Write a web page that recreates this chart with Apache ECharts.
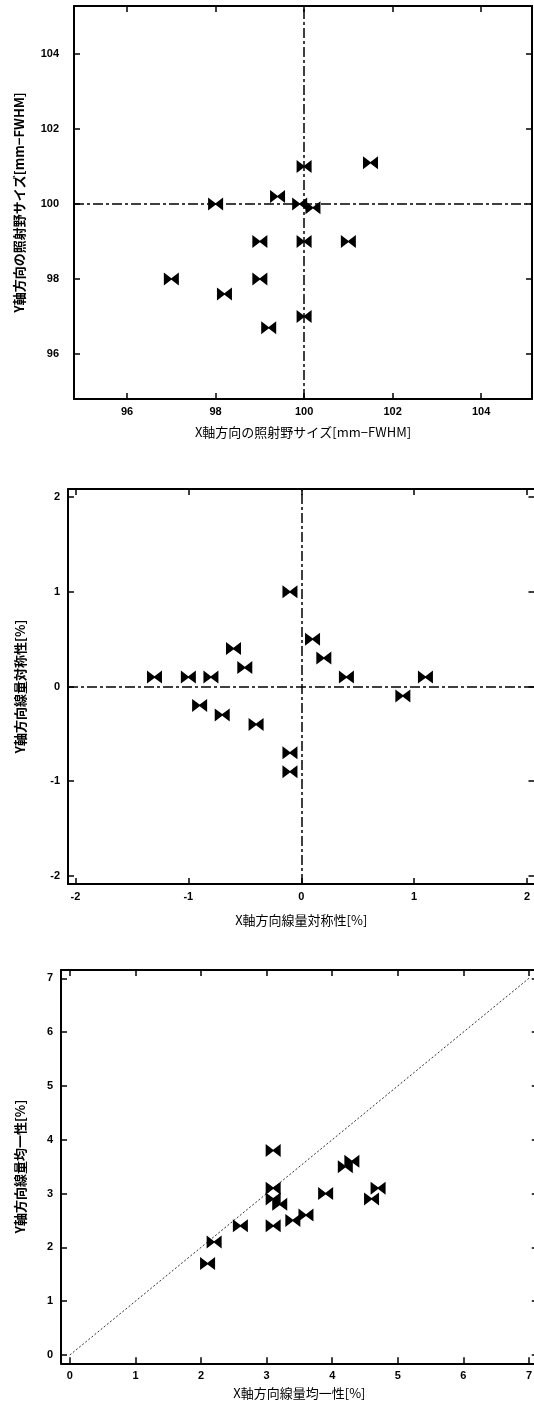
<!DOCTYPE html>
<html>
<head>
<meta charset="utf-8">
<script src="https://cdn.jsdelivr.net/npm/echarts@6/dist/echarts.min.js"></script>
<style>
  html, body { margin: 0; padding: 0; background: #fff; overflow: hidden; }
  #chart { width: 540px; height: 1413px; }
</style>
</head>
<body>
<div id="chart"></div>
<script>
// Field size (mm, FWHM) in X and Y
const sizeX = [97, 98, 98.2, 99, 99, 99.2, 99.4, 100, 99.9, 100.2, 100, 100, 101, 101.5];
const sizeY = [98, 100, 97.6, 99, 98, 96.7, 100.2, 101, 100, 99.9, 99, 97, 99, 101.1];
const sizeTicks = [96, 98, 100, 102, 104];
const sizeRef = 100;

// Dose symmetry (%) in X and Y
const symX = [-1.3, -1.0, -0.8, -0.6, -0.5, -0.9, -0.7, -0.4, -0.1, -0.1, -0.1, 0.1, 0.2, 0.4, 0.9, 1.1];
const symY = [0.1, 0.1, 0.1, 0.4, 0.2, -0.2, -0.3, -0.4, 1.0, -0.7, -0.9, 0.5, 0.3, 0.1, -0.1, 0.1];
const symTicks = [-2, -1, 0, 1, 2];
const symRef = 0;

// Dose uniformity (%) in X and Y
const uniX = [2.1, 2.2, 2.6, 3.1, 3.1, 3.1, 3.1, 3.2, 3.4, 3.6, 3.9, 4.2, 4.3, 4.6, 4.7];
const uniY = [1.7, 2.1, 2.4, 3.8, 3.1, 2.9, 2.4, 2.8, 2.5, 2.6, 3.0, 3.5, 3.6, 2.9, 3.1];
const uniTicks = [0, 1, 2, 3, 4, 5, 6, 7];
const identityRange = [0, 7];

// bow-tie marker: two filled triangles meeting at the centre
const bowtie = 'path://M0,0 L10,5.2 L10,6.8 L0,12 Z M20,0 L10,5.2 L10,6.8 L20,12 Z';
const tickFont = { fontFamily: 'Liberation Sans, Arial, sans-serif', fontWeight: 'bold', fontSize: 11, color: '#000' };
const nameFontX = { fontFamily: 'Noto Sans CJK JP, sans-serif', fontSize: 13, color: '#000' };
const nameFontY = { fontFamily: 'Noto Sans CJK JP, sans-serif', fontSize: 13, fontWeight: 'bold', color: '#000' };

const grids = [
  { left: 74, top: 6, width: 458, height: 393 },
  { left: 68, top: 489, width: 466.5, height: 395 },
  { left: 61, top: 970, width: 476.8, height: 393.3 }
];

const panels = [
  { xr: [94.8, 105.15], yr: [94.8, 105.28], ticks: sizeTicks,
    xName: 'X軸方向の照射野サイズ[mm−FWHM]', yName: 'Y軸方向の照射野サイズ[mm−FWHM]',
    xGap: 27, yGap: 48, yLabelMargin: 15 },
  { xr: [-2.066, 2.066], yr: [-2.085, 2.085], ticks: symTicks,
    xName: 'X軸方向線量対称性[%]', yName: 'Y軸方向線量対称性[%]',
    xGap: 30, yGap: 41, yLabelMargin: 8 },
  { xr: [-0.135, 7.135], yr: [-0.154, 7.154], ticks: uniTicks,
    xName: 'X軸方向線量均一性[%]', yName: 'Y軸方向線量均一性[%]',
    xGap: 23, yGap: 34, yLabelMargin: 8 }
];

const frameLine = { show: true, onZero: false, lineStyle: { color: '#000', width: 2 } };
const innerTick = (vals) => ({ show: true, inside: true, length: 6, customValues: vals, lineStyle: { color: '#000', width: 1.5 } });

const xAxes = [], yAxes = [];
panels.forEach((p, i) => {
  xAxes.push({
    type: 'value', gridIndex: i, position: 'bottom', min: p.xr[0], max: p.xr[1],
    axisLine: frameLine, axisTick: innerTick(p.ticks), splitLine: { show: false },
    axisLabel: Object.assign({ customValues: p.ticks, margin: 7 }, tickFont),
    name: p.xName, nameLocation: 'middle', nameGap: p.xGap, nameTextStyle: nameFontX
  });
  xAxes.push({
    type: 'value', gridIndex: i, position: 'top', min: p.xr[0], max: p.xr[1],
    axisLine: frameLine, axisTick: innerTick(p.ticks), splitLine: { show: false },
    axisLabel: { show: false }
  });
  yAxes.push({
    type: 'value', gridIndex: i, position: 'left', min: p.yr[0], max: p.yr[1],
    axisLine: frameLine, axisTick: innerTick(p.ticks), splitLine: { show: false },
    axisLabel: Object.assign({ customValues: p.ticks, margin: p.yLabelMargin }, tickFont),
    name: p.yName, nameLocation: 'middle', nameGap: p.yGap, nameTextStyle: nameFontY
  });
  yAxes.push({
    type: 'value', gridIndex: i, position: 'right', min: p.yr[0], max: p.yr[1],
    axisLine: frameLine, axisTick: innerTick(p.ticks), splitLine: { show: false },
    axisLabel: { show: false }
  });
});

const dashDot = { color: '#000', width: 1.5, type: [10, 3, 3, 3], opacity: 1 };
const pairs = (xs, ys) => xs.map((x, k) => [x, ys[k]]);
const refLines = (v) => ({
  silent: true, symbol: 'none', label: { show: false }, lineStyle: dashDot,
  emphasis: { disabled: true }, animation: false,
  data: [{ xAxis: v }, { yAxis: v }]
});
const scatter = (i, data, ref) => ({
  type: 'scatter', xAxisIndex: i * 2, yAxisIndex: i * 2, data: data,
  symbol: bowtie, symbolSize: [15, 13], itemStyle: { color: '#000', opacity: 1 },
  markLine: ref === undefined ? undefined : refLines(ref),
  z: 3
});

const option = {
  animation: false,
  backgroundColor: '#fff',
  grid: grids,
  xAxis: xAxes,
  yAxis: yAxes,
  series: [
    scatter(0, pairs(sizeX, sizeY), sizeRef),
    scatter(1, pairs(symX, symY), symRef),
    {
      type: 'line', xAxisIndex: 4, yAxisIndex: 4,
      data: identityRange.map(v => [v, v]),
      symbol: 'none', lineStyle: { color: '#333', width: 1, type: [2, 2] }, z: 2
    },
    scatter(2, pairs(uniX, uniY))
  ]
};

echarts.init(document.getElementById('chart'), null, { renderer: 'canvas' }).setOption(option);
</script>
</body>
</html>
